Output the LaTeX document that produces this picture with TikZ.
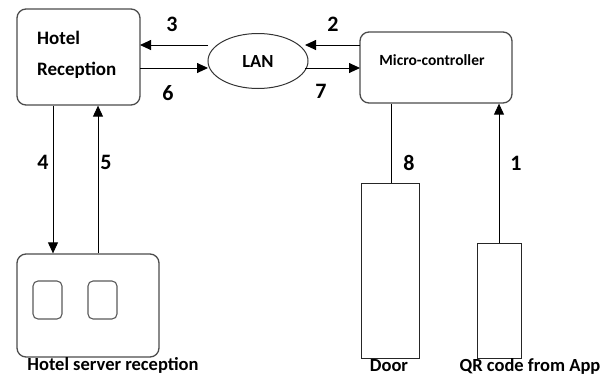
\documentclass[tikz,border=0pt]{standalone}
\usepackage{fontspec}
\setmainfont{Carlito}
\usetikzlibrary{shapes.geometric,arrows.meta}
\begin{document}
\begin{tikzpicture}[x=1pt,y=-1pt,
  rbox/.style={draw=black!70,line width=1.3pt,rounded corners=9pt},
  sbox/.style={draw=black!85,line width=1pt},
  conn/.style={draw=black,line width=0.9pt},
  arr/.style={conn,-{Triangle[length=11pt,width=10pt]}},
  num/.style={font=\fontsize{22}{22}\selectfont\bfseries,inner sep=0pt},
  lbl/.style={font=\fontsize{18.5}{18.5}\selectfont\bfseries,inner sep=0pt}]
\useasboundingbox (0,0) rectangle (614,376);
% boxes
\node[rbox,minimum width=123pt,minimum height=96pt] (hr) at (78.5,57) {};
\node[lbl,anchor=base west,font=\fontsize{19}{19}\selectfont\bfseries] (hrt1) at (37,44) {Hotel};
\node[lbl,anchor=base west,font=\fontsize{19}{19}\selectfont\bfseries] (hrt2) at (37,75) {Reception};
\node[draw=black!80,line width=1pt,ellipse,minimum width=100pt,minimum height=55pt,inner sep=0pt] (lan) at (258,61) {};
\node[lbl] (lant) at (258,61) {LAN};
\node[rbox,minimum width=152pt,minimum height=71pt] (mc) at (436,67.5) {};
\node[font=\fontsize{15.5}{15.5}\selectfont\bfseries,inner sep=0pt] (mct) at (432,60) {Micro-controller};
\node[rbox,minimum width=142pt,minimum height=103pt] (hs) at (88,305.5) {};
\node[draw=black!65,line width=1.1pt,rounded corners=5pt,minimum width=29pt,minimum height=38pt] (s1) at (47.5,300) {};
\node[draw=black!65,line width=1.1pt,rounded corners=5pt,minimum width=29pt,minimum height=38pt] (s2) at (102.5,300) {};
\node[sbox,minimum width=58pt,minimum height=175pt,inner sep=0pt] (door) at (390,270.5) {};
\node[sbox,minimum width=44pt,minimum height=115pt,inner sep=0pt] (qr) at (499,300.5) {};
% coordinates for connectors
\coordinate (hrA) at (140,45);
\coordinate (hrB) at (140,68);
\coordinate (lanA) at (208,45);
\coordinate (lanB) at (208,68);
\coordinate (lanC) at (305,45);
\coordinate (lanD) at (305,68);
\coordinate (mcA) at (360,45);
\coordinate (mcB) at (360,68);
\draw[arr] (lanA) -- (hrA);
\draw[arr] (hrB) -- (lanB);
\draw[arr] (mcA) -- (lanC);
\draw[arr] (lanD) -- (mcB);
\draw[arr] (hr.south -| 53,0) -- (hs.north -| 53,0);
\draw[arr] (hs.north -| 98,0) -- (hr.south -| 98,0);
\draw[conn] (mc.south -| 391,0) -- (door.north -| 391,0);
\draw[arr] (qr.north) -- (mc.south -| qr.north);
% numbers
\node[num] (n3) at (172,24) {3};
\node[num] (n6) at (168,93) {6};
\node[num] (n2) at (333,24) {2};
\node[num] (n7) at (321,91) {7};
\node[num] (n4) at (43,162) {4};
\node[num] (n5) at (106,162) {5};
\node[num] (n8) at (409,163) {8};
\node[num] (n1) at (516,163) {1};
% labels
\node[lbl] (t1) at (113,365) {Hotel server reception};
\node[lbl] (t2) at (389,366) {Door};
\node[lbl] (t3) at (530,366) {QR code from App};
\end{tikzpicture}
\end{document}
